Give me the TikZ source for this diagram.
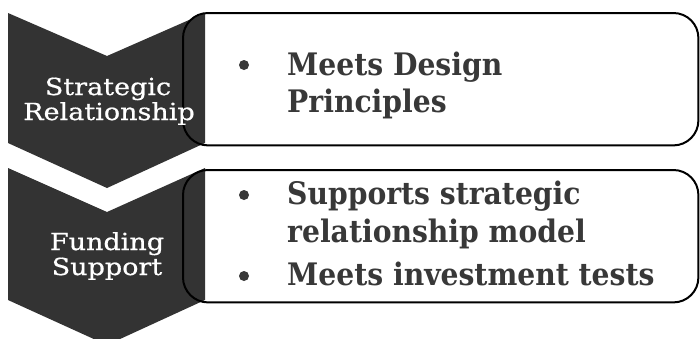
\documentclass[tikz,border=0pt]{standalone}
\usepackage{fontspec}
\setmainfont{DejaVu Serif}
\newfontfamily\itemfont{DejaVu Serif}[FakeStretch=0.91]
\newfontfamily\chevfont{DejaVu Serif}[FakeStretch=1.15,FakeBold=0.6]
\definecolor{chevgray}{HTML}{333333}
\definecolor{itemtext}{HTML}{383838}
\usetikzlibrary{positioning}

\begin{document}
\begin{tikzpicture}[x=1pt,y=-1pt,
    boxfill/.style={fill=white,rounded corners=25pt,minimum width=515pt,minimum height=132pt,anchor=north west},
    boxline/.style={draw=black,line width=2pt,rounded corners=25pt},
    chevron/.style={fill=chevgray},
    steplabel/.style={text=white,font=\chevfont\fontsize{23.5}{25}\selectfont,anchor=base,inner sep=0pt},
    itemline/.style={text=itemtext,font=\itemfont\bfseries\fontsize{31}{35}\selectfont,anchor=base west,inner sep=0pt},
    bulletdot/.style={circle,fill=itemtext,minimum size=10pt,inner sep=0pt}]
    \useasboundingbox (0,0) rectangle (700,338);
    % boxes behind the chevrons
    \node[boxfill] (box1) at (183,13) {};
    \node[boxfill] (box2) at (183,170) {};
    % chevrons
    \fill[chevron] (8,13) -- (107,56) -- (205,13) -- (205,143) -- (107,188) -- (8,143) -- cycle;
    \fill[chevron] (8,168) -- (107,212) -- (205,168) -- (205,300) -- (107,345) -- (8,300) -- cycle;
    % outlines on top
    \draw[boxline] (box1.north west) rectangle (box1.south east);
    \draw[boxline] (box2.north west) rectangle (box2.south east);
    % chevron labels
    \node[steplabel] (strat) at (108,95) {Strategic};
    \node[steplabel] (rel) at (109,120) {Relationship};
    \node[steplabel] (fund) at (107,250) {Funding};
    \node[steplabel] (supp) at (107,275) {Support};
    % first box
    \node[bulletdot] (dot1) at (244,65) {};
    \node[itemline] (meets) at (287,75) {Meets Design};
    \node[itemline] (princ) at (287,112) {Principles};
    % second box
    \node[bulletdot] (dot2) at (244,195) {};
    \node[itemline] (supports) at (287,204) {Supports strategic};
    \node[itemline] (relmodel) at (287,242) {relationship model};
    \node[bulletdot] (dot3) at (244,276) {};
    \node[itemline] (invest) at (287,285) {Meets investment tests};
\end{tikzpicture}
\end{document}
